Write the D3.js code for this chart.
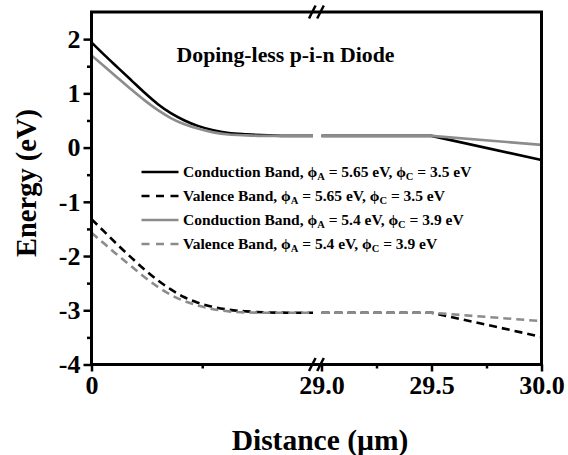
<!DOCTYPE html>
<html>
<head>
<meta charset="utf-8">
<script src="https://cdn.jsdelivr.net/npm/d3@7"></script>
<style>
  html, body { margin: 0; padding: 0; background: #fff; }
  svg { display: block; }
  text { font-family: "Liberation Serif", Tinos, "Times New Roman", Times, "DejaVu Serif", serif; font-weight: bold; fill: #000; }
</style>
</head>
<body>
<svg id="chart" width="568" height="455"></svg>
<script>
// Distance samples (µm) on the left segment of the broken axis (near the anode)
const xLeft = [0, 0.06, 0.12, 0.18, 0.24, 0.30, 0.36, 0.42, 0.48, 0.55, 0.62, 0.70, 0.80, 0.90, 1.0];
// Distance samples (µm) on the right segment (near the cathode)
const xRight = [29.0, 29.5, 30.0];

// Band energies (eV), phi_A = 5.65 eV, phi_C = 3.5 eV
const cbHighLeft  = [1.94, 1.70, 1.47, 1.24, 1.01, 0.80, 0.63, 0.50, 0.40, 0.32, 0.27, 0.245, 0.225, 0.215, 0.215];
const vbHighLeft  = [-1.32, -1.56, -1.80, -2.03, -2.25, -2.45, -2.62, -2.76, -2.86, -2.94, -2.99, -3.02, -3.04, -3.045, -3.045];
const cbHighRight = [0.215, 0.215, -0.23];
const vbHighRight = [-3.045, -3.045, -3.49];

// Band energies (eV), phi_A = 5.4 eV, phi_C = 3.9 eV
const cbLowLeft  = [1.70, 1.49, 1.28, 1.07, 0.87, 0.69, 0.54, 0.43, 0.35, 0.28, 0.24, 0.225, 0.215, 0.215, 0.215];
const vbLowLeft  = [-1.57, -1.78, -1.99, -2.19, -2.39, -2.57, -2.72, -2.83, -2.91, -2.98, -3.02, -3.04, -3.045, -3.045, -3.045];
const cbLowRight = [0.215, 0.215, 0.05];
const vbLowRight = [-3.045, -3.045, -3.20];

// Axis ticks
const yMajorTicks = [-4, -3, -2, -1, 0, 1, 2];
const yMinorTicks = [-3.5, -2.5, -1.5, -0.5, 0.5, 1.5];
const xLeftMajor = [0];
const xLeftMinor = [0.5];
const xRightMajor = [29.0, 29.5, 30.0];
const xRightMinor = [29.25, 29.75];

const titleText = "Doping-less p-i-n Diode";
const legendEntries = [
  { band: "Conduction Band", phiA: "5.65", phiC: "3.5" },
  { band: "Valence Band",    phiA: "5.65", phiC: "3.5" },
  { band: "Conduction Band", phiA: "5.4",  phiC: "3.9" },
  { band: "Valence Band",    phiA: "5.4",  phiC: "3.9" }
];

const FONT = '"Liberation Serif", Tinos, "Times New Roman", Times, "DejaVu Serif", serif';
const BLACK = "#000000", GREY = "#8c8c8c";
const series = [
  { left: cbHighLeft, right: cbHighRight, color: BLACK, dash: null },
  { left: vbHighLeft, right: vbHighRight, color: BLACK, dash: "8,5" },
  { left: cbLowLeft,  right: cbLowRight,  color: GREY,  dash: null },
  { left: vbLowLeft,  right: vbLowRight,  color: GREY,  dash: "8,5" }
];

const svg = d3.select("#chart");
const plot = { left: 91.5, right: 541.5, top: 12, bottom: 364.5 };

const y  = d3.scaleLinear().domain([-4, 2.5]).range([plot.bottom, plot.top]);
const xL = d3.scaleLinear().domain([0, 1]).range([plot.left, 313]);
const xR = d3.scaleLinear().domain([29, 30]).range([321.5, plot.right]);

// Curves: each series drawn as two pieces, one per axis segment
const lineL = d3.line().x((d, i) => xL(xLeft[i])).y(d => y(d)).curve(d3.curveMonotoneX);
const lineR = d3.line().x((d, i) => xR(xRight[i])).y(d => y(d));

const curves = svg.append("g");
series.forEach(s => {
  [[lineL, s.left], [lineR, s.right]].forEach(([gen, vals]) => {
    curves.append("path")
      .attr("d", gen(vals))
      .attr("fill", "none")
      .attr("stroke", s.color)
      .attr("stroke-width", 2.6)
      .attr("stroke-dasharray", s.dash);
  });
});

// Frame
svg.append("rect")
  .attr("x", plot.left).attr("y", plot.top)
  .attr("width", plot.right - plot.left).attr("height", plot.bottom - plot.top)
  .attr("fill", "none").attr("stroke", "#000").attr("stroke-width", 3);

function styleAxis(g, fontSize) {
  g.select(".domain").remove();
  g.selectAll(".tick line").attr("stroke", "#000").attr("stroke-width", 2.5);
  g.selectAll(".tick text")
    .attr("fill", "#000")
    .attr("font-family", null)
    .style("font-size", fontSize + "px")
    .style("font-family", FONT)
    .style("font-weight", "bold");
}

// Y axis
svg.append("g").attr("transform", `translate(${plot.left},0)`)
  .call(d3.axisLeft(y).tickValues(yMajorTicks).tickSize(8).tickPadding(3).tickFormat(d => String(d)))
  .call(g => styleAxis(g, 26));
svg.append("g").attr("transform", `translate(${plot.left},0)`)
  .call(d3.axisLeft(y).tickValues(yMinorTicks).tickSize(4.5).tickFormat(""))
  .call(g => styleAxis(g, 26));

// X axis, left segment
svg.append("g").attr("transform", `translate(0,${plot.bottom})`)
  .call(d3.axisBottom(xL).tickValues(xLeftMajor).tickSize(7).tickPadding(4).tickFormat(d => String(d)))
  .call(g => styleAxis(g, 26));
svg.append("g").attr("transform", `translate(0,${plot.bottom})`)
  .call(d3.axisBottom(xL).tickValues(xLeftMinor).tickSize(4).tickFormat(""))
  .call(g => styleAxis(g, 26));

// X axis, right segment
svg.append("g").attr("transform", `translate(0,${plot.bottom})`)
  .call(d3.axisBottom(xR).tickValues(xRightMajor).tickSize(7).tickPadding(4).tickFormat(d3.format(".1f")))
  .call(g => styleAxis(g, 26));
svg.append("g").attr("transform", `translate(0,${plot.bottom})`)
  .call(d3.axisBottom(xR).tickValues(xRightMinor).tickSize(4).tickFormat(""))
  .call(g => styleAxis(g, 26));

// Axis break marks on the top and bottom edges
[plot.top, plot.bottom].forEach(yy => {
  [312.3, 320.5].forEach(cx => {
    svg.append("line")
      .attr("x1", cx - 3.3).attr("y1", yy + 6.5)
      .attr("x2", cx + 3.3).attr("y2", yy - 6.5)
      .attr("stroke", "#000").attr("stroke-width", 2.5);
  });
});

// Axis titles
svg.append("text")
  .attr("x", 320).attr("y", 450)
  .attr("text-anchor", "middle")
  .style("font-size", "29.5px")
  .text("Distance (\u00b5m)");

svg.append("text")
  .attr("transform", "translate(36,183) rotate(-90)")
  .attr("text-anchor", "middle")
  .style("font-size", "28.5px")
  .text("Energy (eV)");

// Title
svg.append("text")
  .attr("x", 176.5).attr("y", 62)
  .style("font-size", "21.8px")
  .text(titleText);

// Legend
const legend = svg.append("g");
legendEntries.forEach((e, i) => {
  const s = series[i];
  const cy = 172 + i * 24;
  legend.append("line")
    .attr("x1", 141.5).attr("x2", 178.5)
    .attr("y1", cy).attr("y2", cy)
    .attr("stroke", s.color).attr("stroke-width", 2.6)
    .attr("stroke-dasharray", s.dash ? "8,6.5" : null);
  const t = legend.append("text")
    .attr("x", 183).attr("y", cy + 5)
    .style("font-size", "15.5px");
  t.append("tspan").text(e.band + ", \u03d5");
  t.append("tspan").attr("dy", 3).style("font-size", "10.5px").text("A");
  t.append("tspan").attr("dy", -3).text(" = " + e.phiA + " eV, \u03d5");
  t.append("tspan").attr("dy", 3).style("font-size", "10.5px").text("C");
  t.append("tspan").attr("dy", -3).text(" = " + e.phiC + " eV");
});
</script>
</body>
</html>
